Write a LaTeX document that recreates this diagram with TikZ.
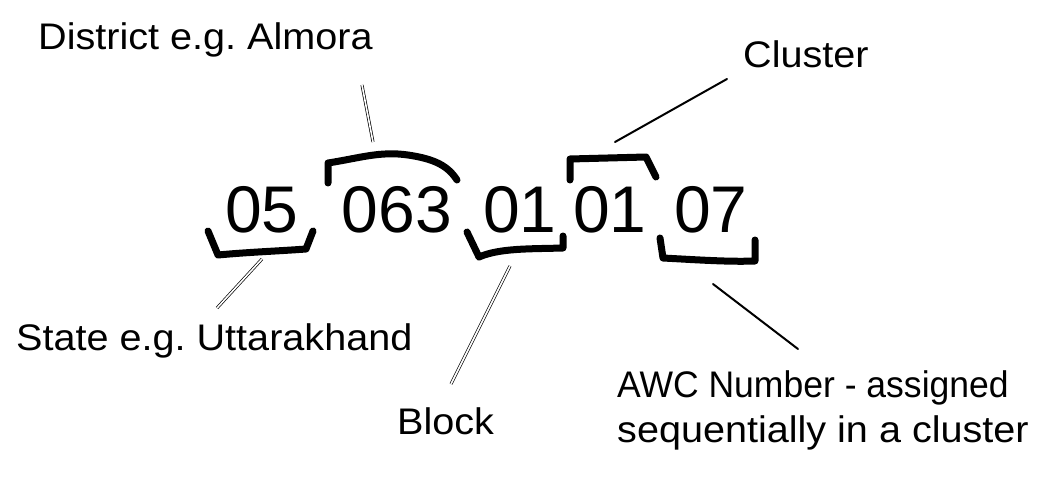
\documentclass[tikz,border=0pt]{standalone}
\usepackage{fontspec}
\setmainfont{Liberation Sans}
\newfontfamily\lblfont[FakeStretch=1.07]{Liberation Sans}
\newfontfamily\lblnarrow[FakeStretch=0.96]{Liberation Sans}
\frenchspacing
\begin{document}
\begin{tikzpicture}[x=1pt,y=-1pt,
  lbl/.style={font=\lblfont\fontsize{37}{45}\selectfont, inner sep=0pt, anchor=base west, align=left},
  digit/.style={font=\fontsize{66}{70}\selectfont, inner sep=0pt, anchor=base},
  brk/.style={line width=7pt, line cap=round, line join=round},
  dbl/.style={double, double distance=1.6pt, line width=0.7pt},
  sgl/.style={line width=2pt, line cap=round}]
\useasboundingbox (0,0) rectangle (1050,484);

% labels
\node[lbl] (district) at (38,50) {District e.g. Almora};
\node[lbl] (cluster) at (743,68) {Cluster};
\node[lbl] (state) at (16,350) {State e.g. Uttarakhand};
\node[lbl] (block) at (397,434) {Block};
\node[lbl] (awc) at (617,442) {{\lblnarrow AWC Number - assigned}\\sequentially in a cluster};

% digits
\node[digit] (d05) at (262,232) {05};
\node[digit] (d063) at (397,232) {063};
\node[digit] (d01a) at (520,232) {01};
\node[digit] (d01b) at (610,232) {01};
\node[digit] (d07) at (711,232) {07};

% brackets
\draw[brk] (208,231) -- (218,255) .. controls (250,252) and (280,251) .. (306,249) -- (313,231);
\draw[brk] (328,183) -- (328,163) .. controls (360,158) and (380,151) .. (408,155)
  .. controls (435,159) and (448,166) .. (457,180);
\draw[brk] (467,232) -- (479,257) .. controls (500,248) and (530,249) .. (563,248) -- (563,236);
\draw[brk] (570,180) -- (570,159) -- (646,157) -- (656,177);
\draw[brk] (660,238) -- (663,258) .. controls (700,260) and (730,262) .. (755,261) -- (755,240);

% connector end points
\coordinate (dA) at (373,142);
\coordinate (dB) at (362,85);
\coordinate (sA) at (262,259);
\coordinate (sB) at (217,308);
\coordinate (bA) at (510,266);
\coordinate (bB) at (451,384);
\coordinate (cA) at (615,142);
\coordinate (cB) at (727,79);
\coordinate (aA) at (713,284);
\coordinate (aB) at (798,349);

\draw[dbl] (dA) -- (dB);
\draw[dbl] (sA) -- (sB);
\draw[dbl] (bA) -- (bB);
\draw[sgl] (cA) -- (cB);
\draw[sgl] (aA) -- (aB);
\end{tikzpicture}
\end{document}
